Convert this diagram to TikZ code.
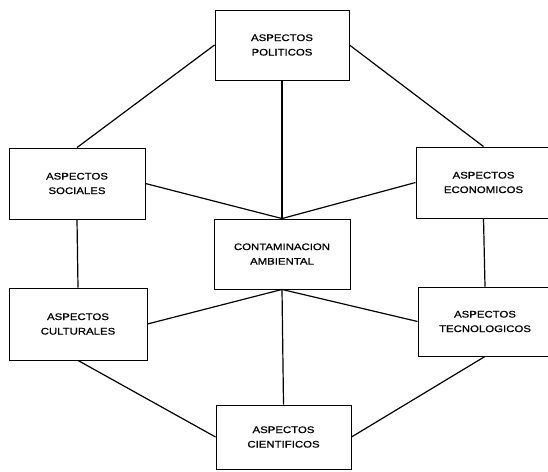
\documentclass[tikz,border=0pt]{standalone}
\usepackage{fontspec}
\setmainfont{Liberation Sans}[FakeStretch=1.2, FakeBold=0.8]
\begin{document}
\begin{tikzpicture}[x=1pt,y=-1pt,
  boxnode/.style={draw, line width=0.9pt, inner sep=0pt, align=center,
    font=\fontsize{9.5}{14.5}\selectfont},
  link/.style={line width=1.2pt}]
\useasboundingbox (0,0) rectangle (548,471);
\begin{scope}
\clip (0,0) rectangle (548,471);
\node[boxnode, minimum width=134pt, minimum height=70pt] (pol) at (282,45) {ASPECTOS\\POLITICOS};
\node[boxnode, minimum width=136pt, minimum height=71pt] (soc) at (77,183.5) {ASPECTOS\\SOCIALES};
\node[boxnode, minimum width=135pt, minimum height=71pt] (eco) at (483.5,182.5) {ASPECTOS\\ECONOMICOS};
\node[boxnode, minimum width=136pt, minimum height=70pt] (con) at (282,254) {CONTAMINACION\\AMBIENTAL};
\node[boxnode, minimum width=138pt, minimum height=72pt] (cul) at (78,324) {ASPECTOS\\CULTURALES};
\node[boxnode, minimum width=134pt, minimum height=69pt] (tec) at (485,321.5) {ASPECTOS\\TECNOLOGICOS};
\node[boxnode, minimum width=135pt, minimum height=64pt] (cie) at (283.5,437) {ASPECTOS\\CIENTIFICOS};
\draw[link] (pol.west) -- (soc.north);
\draw[link] (pol.east) -- (eco.north);
\draw[link] (pol.south) -- (con.north);
\draw[link] (soc.east) -- (con.north);
\draw[link] (eco.west) -- (con.north);
\draw[link] (soc.south) -- (cul.north);
\draw[link] (eco.south) -- (tec.north);
\draw[link] (con.south) -- (cul.east);
\draw[link] (con.south) -- (tec.west);
\draw[link] (con.south) -- (cie.north);
\draw[link] (cul.south) -- (cie.west);
\draw[link] (tec.south) -- (cie.east);
\end{scope}
\end{tikzpicture}
\end{document}
